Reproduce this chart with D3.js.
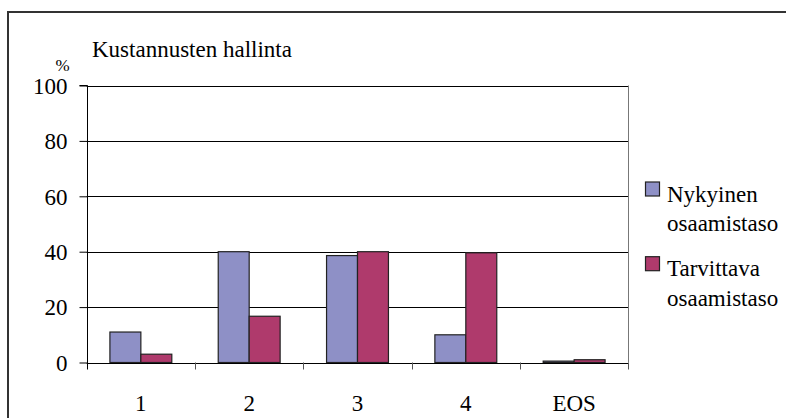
<!DOCTYPE html>
<html>
<head>
<meta charset="utf-8">
<script src="https://cdn.jsdelivr.net/npm/d3@7"></script>
<style>
  html, body { margin: 0; padding: 0; background: #fff; }
  svg { display: block; }
  svg text { font-family: "Liberation Serif", "Tinos", "Times New Roman", Times, "DejaVu Serif", "Noto Serif", serif; fill: #000; }
</style>
</head>
<body>
<svg id="chart" width="786" height="418"></svg>
<script>
// Chart data
const chartTitle = "Kustannusten hallinta";
const unitLabel = "%";
const categories = ["1", "2", "3", "4", "EOS"];
const seriesNames = [["Nykyinen", "osaamistaso"], ["Tarvittava", "osaamistaso"]];
const nykyinen = [11, 40, 38.6, 10, 0.5];
const tarvittava = [3, 16.7, 40, 39.6, 1];
const yTicks = [0, 20, 40, 60, 80, 100];
const seriesColors = ["#8E90C6", "#AF3A6C"];

const svg = d3.select("#chart");

// Outer chart frame (top and left edges)
svg.append("path")
  .attr("d", "M8,418 L8,12 L786,12")
  .attr("fill", "none")
  .attr("stroke", "#333")
  .attr("stroke-width", 2);

const plot = { left: 86.7, right: 628.3, top: 85.5, bottom: 362.5 };

const y = d3.scaleLinear().domain([0, 100]).range([plot.bottom, plot.top]);
const x0 = d3.scaleBand().domain(categories).range([plot.left, plot.right]).padding(0);
const x1 = d3.scaleBand().domain([0, 1]).range([0, x0.bandwidth()])
  .paddingInner(0).paddingOuter(0.75);

// Horizontal gridlines
svg.append("g")
  .selectAll("line")
  .data(yTicks.filter(t => t > 0))
  .join("line")
  .attr("x1", plot.left).attr("x2", plot.right)
  .attr("y1", d => Math.round(y(d)) + 0.5).attr("y2", d => Math.round(y(d)) + 0.5)
  .attr("stroke", "#000").attr("stroke-width", 1);

// Plot area right edge
svg.append("line")
  .attr("x1", Math.round(plot.right) + 0.5).attr("x2", Math.round(plot.right) + 0.5)
  .attr("y1", plot.top).attr("y2", plot.bottom)
  .attr("stroke", "#777").attr("stroke-width", 1);

// Bars
const rows = categories.map((c, i) => ({ cat: c, vals: [nykyinen[i], tarvittava[i]] }));
svg.append("g")
  .selectAll("g")
  .data(rows)
  .join("g")
  .attr("transform", d => `translate(${x0(d.cat)},0)`)
  .selectAll("rect")
  .data(d => d.vals.map((v, s) => ({ v, s })))
  .join("rect")
  .attr("x", d => x1(d.s))
  .attr("width", x1.bandwidth())
  .attr("y", d => y(d.v))
  .attr("height", d => y(0) - y(d.v))
  .attr("fill", d => seriesColors[d.s])
  .attr("stroke", "#222")
  .attr("stroke-width", 1.2);

// Y axis
const yAxis = d3.axisLeft(y).tickValues(yTicks).tickSize(8).tickPadding(12).tickFormat(d3.format("d"));
const gy = svg.append("g")
  .attr("transform", `translate(${Math.round(plot.left) + 0.5},0)`)
  .call(yAxis)
  .attr("font-family", null)
  .attr("font-size", null);
gy.select(".domain").attr("stroke", "#000").attr("d", `M-8,${plot.top}H0V${plot.bottom + 7}`);
gy.selectAll(".tick line").attr("stroke", "#000");
gy.selectAll(".tick text")
  .attr("font-size", 23)
  .attr("dy", "0.34em");

// X axis
const catBounds = categories.map(c => x0(c)).concat([plot.right]);
svg.append("line")
  .attr("x1", plot.left).attr("x2", plot.right)
  .attr("y1", Math.round(plot.bottom) + 0.5).attr("y2", Math.round(plot.bottom) + 0.5)
  .attr("stroke", "#000");
svg.append("g")
  .selectAll("line")
  .data(catBounds.slice(1))
  .join("line")
  .attr("x1", d => Math.round(d) + 0.5).attr("x2", d => Math.round(d) + 0.5)
  .attr("y1", plot.bottom).attr("y2", plot.bottom + 7)
  .attr("stroke", "#555");
svg.append("g")
  .selectAll("text")
  .data(categories)
  .join("text")
  .attr("x", d => x0(d) + x0.bandwidth() / 2)
  .attr("y", 410.5)
  .attr("text-anchor", "middle")
  .attr("font-size", 23)
  .text(d => d);

// Title and unit
svg.append("text")
  .attr("x", 92).attr("y", 56.5)
  .attr("font-size", 23)
  .text(chartTitle);
svg.append("text")
  .attr("x", 62.5).attr("y", 71)
  .attr("text-anchor", "middle")
  .attr("font-size", 17)
  .text(unitLabel);

// Legend
const legendTop = [182, 256.7];
const legend = svg.append("g");
seriesNames.forEach((lines, i) => {
  legend.append("rect")
    .attr("x", 645.5).attr("y", legendTop[i])
    .attr("width", 14).attr("height", 14)
    .attr("fill", seriesColors[i])
    .attr("stroke", "#222").attr("stroke-width", 1.2);
  lines.forEach((t, j) => {
    legend.append("text")
      .attr("x", 667)
      .attr("y", legendTop[i] + 19.5 + j * 29.5)
      .attr("font-size", 23)
      .text(t);
  });
});
</script>
</body>
</html>
